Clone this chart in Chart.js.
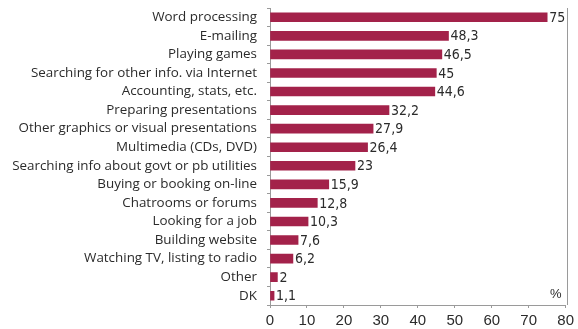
<!DOCTYPE html>
<html>
<head>
<meta charset="utf-8">
<script src="https://cdn.jsdelivr.net/npm/chart.js@4"></script>
<style>
  html, body { margin: 0; padding: 0; background: #fff; }
  #wrap { width: 578px; height: 329px; position: relative; }
</style>
</head>
<body>
<div id="wrap"><canvas id="usesChart"></canvas></div>
<script>
// categories, top to bottom
const activities = [
    'Word processing',
    'E-mailing',
    'Playing games',
    'Searching for other info. via Internet',
    'Accounting, stats, etc.',
    'Preparing presentations',
    'Other graphics or visual presentations',
    'Multimedia (CDs, DVD)',
    'Searching info about govt or pb utilities',
    'Buying or booking on-line',
    'Chatrooms or forums',
    'Looking for a job',
    'Building website',
    'Watching TV, listing to radio',
    'Other',
    'DK'
];
const shares = [75, 48.3, 46.5, 45, 44.6, 32.2, 27.9, 26.4, 23, 15.9, 12.8, 10.3, 7.6, 6.2, 2, 1.1];
const xTicks = [0, 10, 20, 30, 40, 50, 60, 70, 80];

const barColor = '#a3224a';
const textColor = '#2b2b2b';
const axisColor = '#9a9a9a';

// value labels, right frame line and the % sign
const extrasPlugin = {
    id: 'extras',
    afterDatasetsDraw(chart) {
        const ctx = chart.ctx;
        const meta = chart.getDatasetMeta(0);
        ctx.save();
        ctx.font = '14px "Liberation Sans Narrow", "DejaVu Sans Condensed", sans-serif';
        ctx.fillStyle = textColor;
        ctx.textAlign = 'left';
        ctx.textBaseline = 'middle';
        meta.data.forEach((bar, i) => {
            const txt = String(shares[i]).replace('.', ',');
            ctx.fillText(txt, bar.x + 2, bar.y + 1);
        });
        const area = chart.chartArea;
        ctx.strokeStyle = axisColor;
        ctx.lineWidth = 1;
        ctx.beginPath();
        ctx.moveTo(Math.round(area.right) + 1.5, area.top);
        ctx.lineTo(Math.round(area.right) + 1.5, area.bottom);
        ctx.stroke();
        ctx.font = '13px "Liberation Sans Narrow", sans-serif';
        ctx.textAlign = 'center';
        ctx.fillText('%', area.right - 10, area.bottom - 11);
        ctx.restore();
    }
};

const ctx = document.getElementById('usesChart').getContext('2d');
const chart = new Chart(ctx, {
    type: 'bar',
    data: {
        labels: activities,
        datasets: [{
            data: shares,
            backgroundColor: barColor,
            borderWidth: 0,
            barThickness: 9
        }]
    },
    options: {
        indexAxis: 'y',
        responsive: true,
        maintainAspectRatio: false,
        animation: false,
        layout: { padding: { top: 8, right: 7, left: 0, bottom: 0 } },
        plugins: {
            legend: { display: false },
            tooltip: { enabled: false }
        },
        scales: {
            x: {
                min: 0,
                max: 80,
                afterBuildTicks: scale => { scale.ticks = xTicks.map(v => ({ value: v })); },
                afterFit: scale => { scale.height = 24; },
                grid: {
                    drawOnChartArea: false,
                    tickLength: 3,
                    color: axisColor
                },
                border: { color: axisColor },
                ticks: {
                    color: textColor,
                    padding: 4,
                    font: { family: '"Liberation Sans Narrow", sans-serif', size: 15 }
                }
            },
            y: {
                afterFit: scale => {
                    scale.width = 270;
                    scale.paddingTop = 0;
                    scale.paddingBottom = 0;
                },
                grid: {
                    drawOnChartArea: false,
                    tickLength: 3,
                    color: axisColor
                },
                border: { color: axisColor },
                ticks: {
                    autoSkip: false,
                    color: textColor,
                    padding: 10,
                    font: { family: '"Open Sans", sans-serif', size: 13.4 }
                }
            }
        }
    },
    plugins: [extrasPlugin]
});
</script>
</body>
</html>
